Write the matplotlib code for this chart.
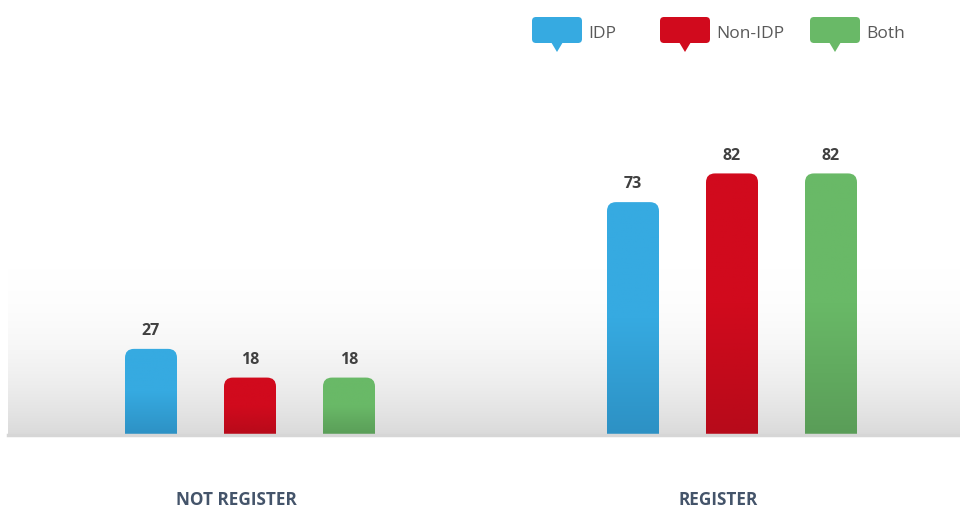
import numpy as np
import matplotlib
matplotlib.use("Agg")
import matplotlib.pyplot as plt
from matplotlib.patches import FancyBboxPatch, Polygon
from matplotlib.colors import LinearSegmentedColormap

plt.rcParams['font.family'] = ['Open Sans', 'DejaVu Sans']

categories = ["NOT REGISTER", "REGISTER"]
series = ["IDP", "Non-IDP", "Both"]
idp = [27, 73]
non_idp = [18, 82]
both = [18, 82]
values = [idp, non_idp, both]

# top / bottom colours of each bar gradient
colors = [("#36aae1", "#2d91c4"), ("#d10a1d", "#b70a1a"), ("#69b967", "#5a9d58")]
legend_colors = ["#36aae1", "#d10a1d", "#69b967"]

W, H, DPI = 960, 508, 100
fig = plt.figure(figsize=(W / DPI, H / DPI), dpi=DPI)
fig.patch.set_facecolor("white")

# main axes: left edge at px 8, baseline at px 435
ax_l, ax_r, base_y = 8, 960, 435
ax = fig.add_axes([ax_l / W, (H - base_y) / H, (ax_r - ax_l) / W, base_y / H])
px_per_unit = 3.19
ymax = base_y / px_per_unit
grp_px = 482.0
xlim = (-242 / grp_px, (ax_r - ax_l - 242) / grp_px)
ax.axis("off")

# soft grey floor gradient behind the bars
fade_top = 180 / px_per_unit
g = np.linspace(0, 1, 256) ** 2.2
bg = LinearSegmentedColormap.from_list("bg", ["#ffffff", "#dadada"])
ax.imshow(g[:, None], extent=(xlim[0], xlim[1], 0, fade_top),
          cmap=bg, aspect="auto", origin="upper", zorder=0, vmin=0, vmax=1)

offset = 99 / grp_px
width = 52 / grp_px
radius_x = 9 / grp_px
aspect = grp_px / px_per_unit

x = np.arange(len(categories))
grad = np.linspace(0, 1, 128)[:, None]
for i, (vals, (ctop, cbot)) in enumerate(zip(values, colors)):
    cm = LinearSegmentedColormap.from_list("c%d" % i, [ctop, ctop, cbot])
    for j, v in enumerate(vals):
        xc = x[j] + (i - 1) * offset
        bar = FancyBboxPatch((xc - width / 2, -10), width, v + 10,
                             boxstyle="round,pad=0,rounding_size=%f" % radius_x,
                             mutation_aspect=aspect, linewidth=0,
                             facecolor="none", zorder=2)
        ax.add_patch(bar)
        im = ax.imshow(grad, extent=(xc - width / 2, xc + width / 2, 0, v),
                       cmap=cm, aspect="auto", origin="upper", zorder=2,
                       vmin=0, vmax=1)
        im.set_clip_path(bar)
        ax.annotate(str(v), (xc, v), xytext=(0, 7), textcoords="offset points",
                    ha="center", va="bottom", fontsize=11.5, fontweight="bold",
                    color="#404040", zorder=3)
ax.set_xlim(*xlim)
ax.set_ylim(0, ymax)

# baseline
ax.axhline(0, color="#d6d6d6", linewidth=2.5, zorder=4, clip_on=False)

# category labels
for j, c in enumerate(categories):
    ax.annotate(c, (x[j], 0), xytext=(-10, -47), textcoords="offset points",
                ha="center", va="center", fontsize=12.3, fontweight="bold",
                color="#44546a")

# legend with speech-bubble markers (pixel overlay)
ov = fig.add_axes([0, 0, 1, 1], facecolor="none")
ov.set_xlim(0, W)
ov.set_ylim(H, 0)
ov.axis("off")
leg_x = [532, 660, 810]
for lx, col, name in zip(leg_x, legend_colors, series):
    ov.add_patch(FancyBboxPatch((lx, 17), 50, 26,
                                boxstyle="round,pad=0,rounding_size=4",
                                facecolor=col, edgecolor="none"))
    tx = lx + 25
    ov.add_patch(Polygon([[tx - 6, 42], [tx + 6, 42], [tx, 52]],
                         closed=True, facecolor=col, edgecolor="none"))
    ov.text(lx + 56, 34, name, ha="left", va="center", fontsize=12.5,
            color="#595959")

fig.savefig("out.png", dpi=DPI, facecolor="white")
